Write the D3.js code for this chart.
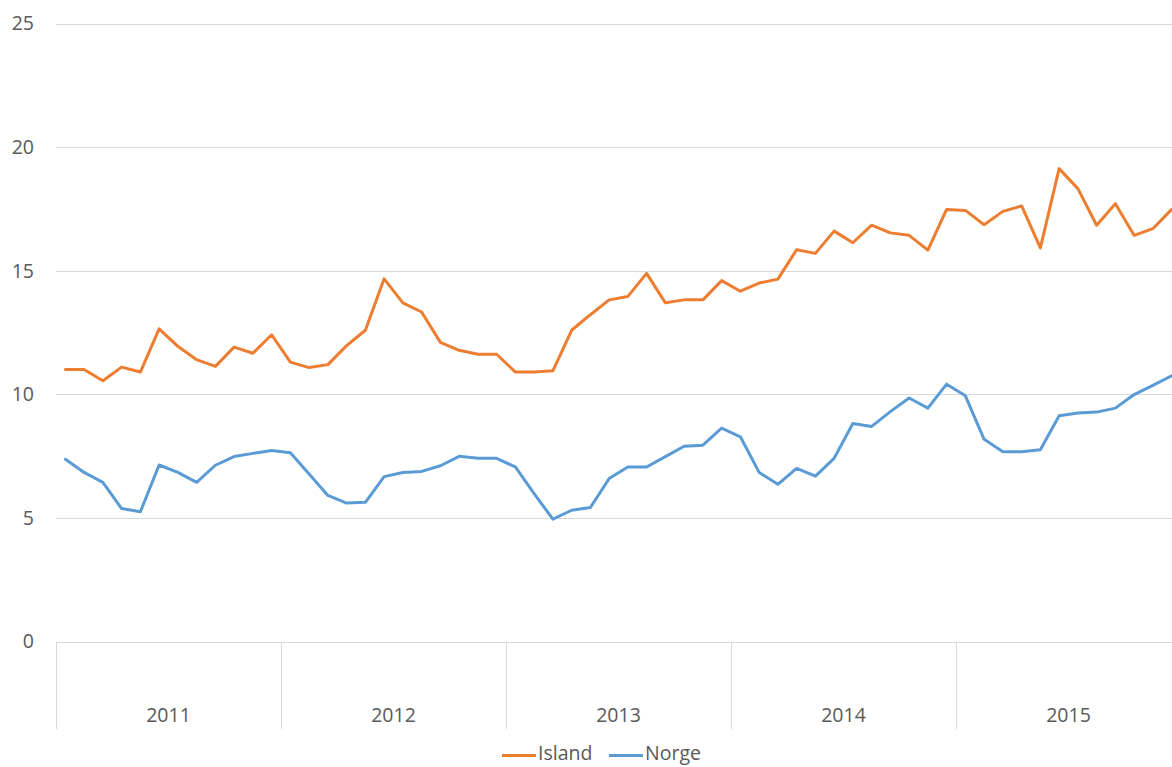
<!DOCTYPE html>
<html>
<head>
<meta charset="utf-8">
<script src="https://cdn.jsdelivr.net/npm/d3@7"></script>
<style>
  body { margin: 0; background: #fff; }
  svg { display: block; font-family: "Open Sans", Lato, sans-serif; }
  .grid line { stroke: #d9d9d9; stroke-width: 1; }
  .lbl { fill: #595959; font-size: 19.5px; }
</style>
</head>
<body>
<svg id="chart" width="1172" height="767"></svg>
<script>
//Data ---------------------------------
const years = ["2011", "2012", "2013", "2014", "2015"];
const months = ["jan", "feb", "mar", "apr", "mai", "jun", "jul", "aug", "sep", "okt", "nov", "des"];
const yTicks = [0, 5, 10, 15, 20, 25];

const island = [
  11.0, 11.0, 10.55, 11.1, 10.9, 12.65, 11.94, 11.4, 11.13, 11.91, 11.66, 12.41,
  11.3, 11.08, 11.2, 11.97, 12.59, 14.67, 13.7, 13.33, 12.1, 11.78, 11.62, 11.62,
  10.9, 10.9, 10.95, 12.59, 13.22, 13.82, 13.96, 14.89, 13.7, 13.82, 13.82, 14.6,
  14.17, 14.5, 14.66, 15.85, 15.7, 16.6, 16.13, 16.84, 16.53, 16.43, 15.83, 17.48,
  17.44, 16.86, 17.4, 17.62, 15.92, 19.13, 18.32, 16.84, 17.71, 16.43, 16.7, 17.48
];
const norge = [
  7.37, 6.84, 6.44, 5.38, 5.25, 7.14, 6.84, 6.44, 7.13, 7.48, 7.61, 7.73,
  7.64, 6.78, 5.91, 5.6, 5.63, 6.67, 6.84, 6.88, 7.11, 7.49, 7.41, 7.41,
  7.06, 5.98, 4.95, 5.31, 5.42, 6.59, 7.06, 7.06, 7.48, 7.9, 7.94, 8.63,
  8.28, 6.84, 6.36, 7.0, 6.69, 7.41, 8.82, 8.7, 9.3, 9.85, 9.44, 10.41,
  9.94, 8.18, 7.68, 7.68, 7.76, 9.13, 9.24, 9.28, 9.44, 9.99, 10.36, 10.75
];
const seriesNames = ["Island", "Norge"];
const seriesColors = ["#ed7d31", "#5b9bd5"];

//One key per month, e.g. "2011-jan"
const periods = years.flatMap((yr) => months.map((m) => yr + "-" + m));

//Layout (plot runs past the right edge, like the original)
const svg = d3.select("#chart");
const plotLeft = 56, plotRight = 1181, plotTop = 23.5, plotBottom = 641.5;

const x = d3.scaleBand().domain(periods).range([plotLeft, plotRight]).padding(0);
const xYear = d3.scaleBand().domain(years).range([plotLeft, plotRight]).padding(0);
const y = d3.scaleLinear().domain([0, 25]).range([plotBottom, plotTop]);

//Gridlines
svg.append("g")
  .attr("class", "grid")
  .selectAll("line")
  .data(yTicks)
  .join("line")
  .attr("x1", plotLeft)
  .attr("x2", plotRight)
  .attr("y1", (d) => Math.round(y(d)) + 0.5)
  .attr("y2", (d) => Math.round(y(d)) + 0.5);

//Y labels
svg.append("g")
  .selectAll("text")
  .data(yTicks)
  .join("text")
  .attr("class", "lbl")
  .attr("x", 34)
  .attr("y", (d) => y(d))
  .attr("dy", "0.35em")
  .attr("text-anchor", "end")
  .text((d) => d);

//Year separators and labels
const yearBounds = years.map((d) => xYear(d)).concat([plotRight]);
svg.append("g")
  .attr("class", "grid")
  .selectAll("line")
  .data(yearBounds)
  .join("line")
  .attr("x1", (d) => Math.round(d) + 0.5)
  .attr("x2", (d) => Math.round(d) + 0.5)
  .attr("y1", Math.round(plotBottom) + 0.5)
  .attr("y2", 729);

svg.append("g")
  .selectAll("text")
  .data(years)
  .join("text")
  .attr("class", "lbl")
  .attr("x", (d) => xYear(d) + xYear.bandwidth() / 2)
  .attr("y", 715)
  .attr("dy", "0.35em")
  .attr("text-anchor", "middle")
  .text((d) => d);

//Lines
const line = d3.line()
  .x((d, i) => x(periods[i]) + x.bandwidth() / 2)
  .y((d) => y(d));

svg.append("g")
  .selectAll("path")
  .data([island, norge])
  .join("path")
  .attr("d", line)
  .attr("fill", "none")
  .attr("stroke", (d, i) => seriesColors[i])
  .attr("stroke-width", 3)
  .attr("stroke-linejoin", "round")
  .attr("stroke-linecap", "round");

//Legend (kept a touch higher so the "g" descender is not cut)
const legendX = [502, 609];
const legend = svg.append("g")
  .selectAll("g")
  .data(seriesNames)
  .join("g")
  .attr("transform", (d, i) => "translate(" + legendX[i] + ",754)");

legend.append("line")
  .attr("x1", 0)
  .attr("x2", 34)
  .attr("y1", 1.5)
  .attr("y2", 1.5)
  .attr("stroke", (d, i) => seriesColors[i])
  .attr("stroke-width", 3);

legend.append("text")
  .attr("class", "lbl")
  .attr("x", 36)
  .attr("dy", "0.3em")
  .text((d) => d);
</script>
</body>
</html>
